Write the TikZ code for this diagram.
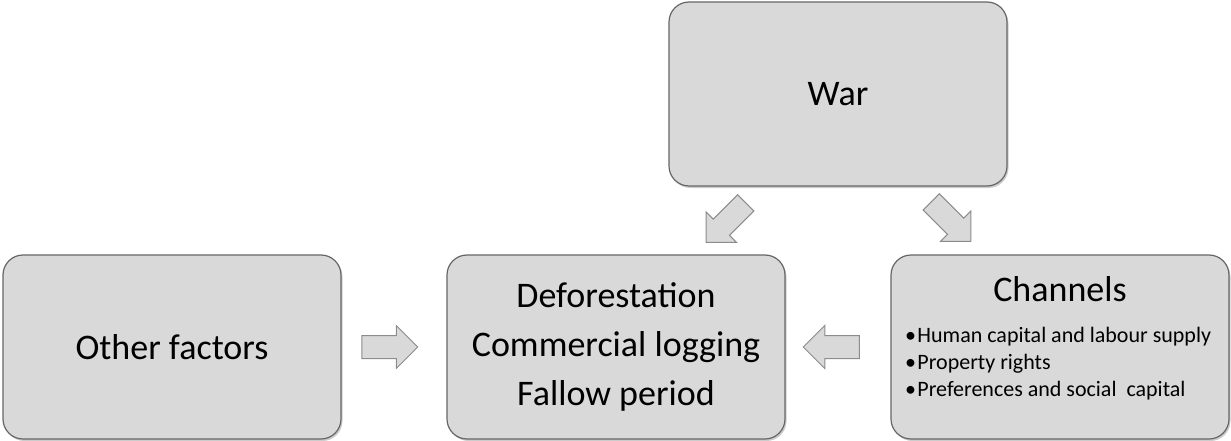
\documentclass[tikz,border=0pt]{standalone}
\usepackage{fontspec}
\setmainfont{Carlito}
\usetikzlibrary{shapes.arrows,shadows,calc}

\newcommand{\chanitem}{\textbullet\kern1.5pt}

\begin{document}
\begin{tikzpicture}[x=1pt, y=1pt,
  facbox/.style={draw=black!60, line width=1.2pt, fill=black!15, rounded corners=20pt, minimum width=338pt, minimum height=184pt, align=center, font=\fontsize{36}{49}\selectfont, drop shadow={shadow xshift=1.5pt, shadow yshift=-2pt, fill=black!40, opacity=0.5}},
  blockarr/.style={single arrow, draw=black!45, line width=1pt, fill=black!15, minimum height=56pt, inner sep=11pt, single arrow head extend=10pt}
]
\useasboundingbox (0,0) rectangle (1231,-441);
\node[facbox] (war) at (838,-94) {War};
\node[facbox] (other) at (172,-347) {Other factors};
\node[facbox] (defor) at (616,-347) {Deforestation\\Commercial logging\\Fallow period};
\node[facbox] (chan) at (1060,-347) {\parbox[c][140pt][t]{310pt}{\centering Channels\par\vspace{14pt}
  \raggedright\fontsize{22}{27}\selectfont\chanitem Human capital and labour supply\\
  \chanitem Property rights\\
  \chanitem Preferences and social\ \ capital\par}};
\node[blockarr] (a1) at ($(other.east)!0.5!(defor.west)+(-10,0)$) {};
\node[blockarr, rotate=180] (a2) at ($(defor.east)!0.5!(chan.west)+(-1,0)$) {};
\node[blockarr, rotate=-135] (a3) at ($(war.south)+(-108,-32)$) {};
\node[blockarr, rotate=-45] (a4) at ($(war.south)+(109,-31)$) {};
\end{tikzpicture}
\end{document}
